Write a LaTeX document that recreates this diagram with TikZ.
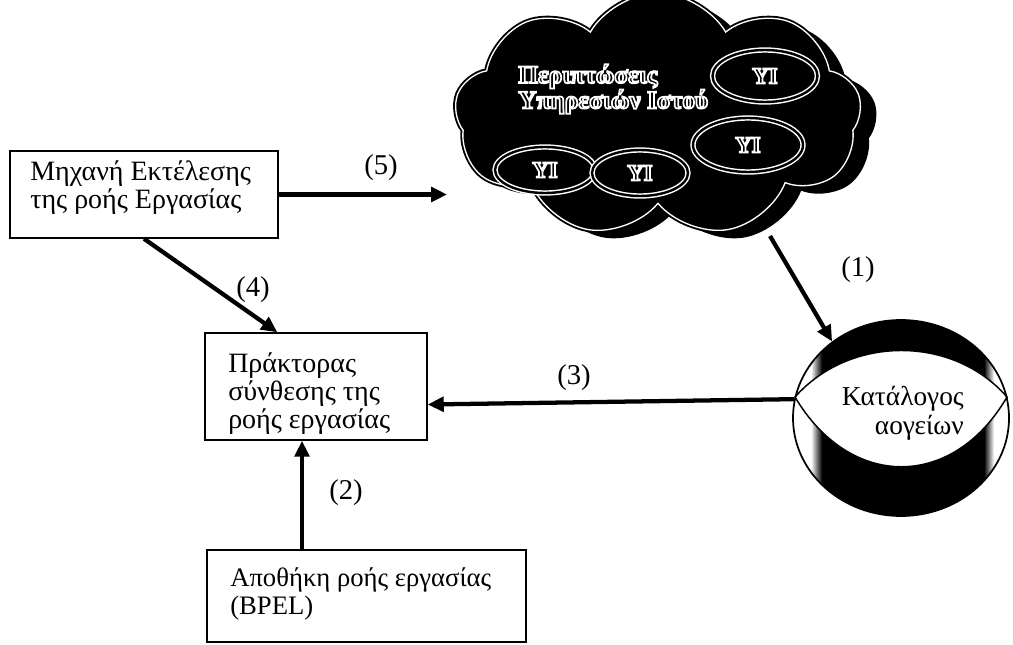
\documentclass[tikz,border=0pt]{standalone}
\usepackage{fontspec}
\setmainfont{Liberation Serif}
\usetikzlibrary{shapes.geometric,shapes.symbols,arrows.meta}

% black letters with a white stroked rim (PDF text render mode 2)
\newcommand\outl[1]{\special{pdf:literal direct 2 Tr 1 G 1.3 w}#1\special{pdf:literal direct 0 Tr 0 G}}

\tikzset{
  box/.style={draw, line width=1.1pt, inner sep=0pt},
  txt/.style={font=\fontsize{21}{21}\selectfont, align=left, inner sep=0pt},
  lbl/.style={font=\fontsize{21.5}{21}\selectfont, inner sep=0pt},
  flow/.style={line width=3.2pt, -{Triangle[length=12pt,width=11pt]}},
  puffy/.style={cloud, cloud puffs=9, cloud puff arc=120, cloud ignores aspect,
    minimum width=305pt, minimum height=183pt, inner sep=0pt},
  yi/.style={ellipse, fill=black, draw=white, double=black, double distance=1.8pt,
    line width=1.1pt, inner sep=0pt, font=\bfseries\fontsize{17}{17}\selectfont},
}

\begin{document}
\begin{tikzpicture}[x=0.75pt, y=-0.75pt]
\useasboundingbox (0,0) rectangle (1013,645);

% boxes
\node[box, minimum width=201pt, minimum height=65.25pt] (boxA) at (144,194.5) {};
\node[txt, anchor=west] (boxAtext) at (30,188) {Μηχανή Εκτέλεσης\\της ροής Εργασίας};

\node[box, minimum width=166.5pt, minimum height=80.25pt] (boxB) at (316,386.5) {};
\node[txt, anchor=west] (boxBtext) at (228,394) {Πράκτορας\\σύνθεσης της\\ροής εργασίας};

\node[box, minimum width=239.25pt, minimum height=69pt] (boxC) at (366.5,596) {};
\node[txt, anchor=west, font=\fontsize{20}{21.5}\selectfont] (boxCtext) at (230,594) {Αποθήκη ροής εργασίας\\(BPEL)};

% cloud of service instances
\node[puffy, fill=black] (cloudshade) at (674,123) {};
\node[puffy, fill=black, draw=black, line width=1.4pt, double=white, double distance=1pt] (cloud) at (658,115) {};
\node[txt, anchor=west, font=\bfseries\fontsize{19}{19}\selectfont] (cloudtext) at (518,89)
  {\outl{Περιπτώσεις}\\\outl{Υπηρεσιών Ιστού}};

\node[yi, minimum width=78.75pt, minimum height=39pt] (yi1) at (765,76) {\outl{ΥΙ}};
\node[yi, minimum width=82.5pt, minimum height=40.5pt] (yi4) at (748,145) {\outl{ΥΙ}};
\node[yi, minimum width=75pt, minimum height=34.5pt] (yi2) at (545,170) {\outl{ΥΙ}};
\node[yi, minimum width=72pt, minimum height=34.5pt] (yi3) at (640,173) {\outl{ΥΙ}};

% catalogue globe
\begin{scope}
  \clip (901,418) ellipse [x radius=108, y radius=98];
  \fill[black] (785,305) rectangle (1015,525);
  \fill[white] (785,305) rectangle (811,525);
  \shade[left color=white, right color=black] (811,305) rectangle (822,525);
  \fill[white] (994,305) rectangle (1015,525);
  \shade[left color=black, right color=white] (984,305) rectangle (994,525);
\end{scope}
\filldraw[fill=white, draw=black, line width=1.1pt]
  (795,397) .. controls (850,335) and (953,335) .. (1007,397)
  .. controls (953,490) and (850,490) .. (795,397) -- cycle;
\node[ellipse, draw, line width=1.3pt, minimum width=162pt, minimum height=147pt,
  inner sep=0pt] (globe) at (901,418) {};
\node[txt, align=right, anchor=east, font=\fontsize{20.5}{22}\selectfont] (globetext) at (964,413) {Κατάλογος\\αογείων};

% connectors
\coordinate (cloudfoot) at (770,236);
\coordinate (col2) at (302,0);

\draw[flow] (boxA.east) -- ([xshift=-6pt]boxA.east -| cloud.west);
\node[lbl] (l5) at (381,168) {(5)};
\draw[flow] (cloudfoot) -- (globe.132);
\node[lbl] (l1) at (858,270) {(1)};
\draw[flow] (globe.170) -- ([yshift=-13.5pt]boxB.east);
\node[lbl] (l3) at (574,378) {(3)};
\draw[flow] (boxA.south) -- ([xshift=-29pt]boxB.north);
\node[lbl] (l4) at (253,290) {(4)};
\draw[flow] (boxC.north -| col2) -- (boxB.south -| col2);
\node[lbl] (l2) at (346,493) {(2)};
\end{tikzpicture}
\end{document}
